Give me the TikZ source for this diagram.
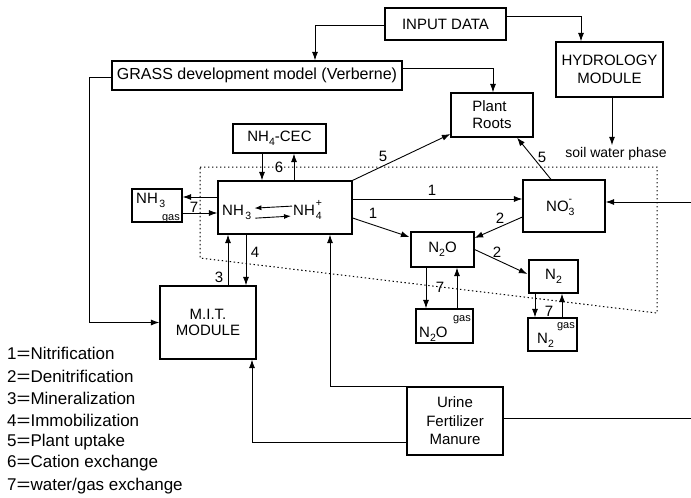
\documentclass[tikz,border=0pt]{standalone}
\usepackage{fontspec}
\usepackage{graphicx}
\setmainfont{Liberation Sans}
\usetikzlibrary{arrows.meta,calc}
\newcommand\myfs[1]{\fontsize{#1}{#1}\selectfont}
\newcommand\sbs[1]{\raisebox{-0.3em}{\fontsize{10.5}{11}\selectfont #1}}
\newcommand\sbsp[2]{\makebox[0pt][l]{\raisebox{0.55em}{\fontsize{10.5}{11}\selectfont #2}}\raisebox{-0.3em}{\fontsize{10.5}{11}\selectfont #1}}
\newcommand\eqs{\scalebox{1.4}[1]{=}}
\begin{document}
\begin{tikzpicture}[x=1pt,y=-1pt,
  box/.style={draw, line width=1.2pt, inner sep=0pt, align=center, font={\fontsize{15}{18}\selectfont}},
  arr/.style={-{Latex[length=8.5pt,width=6pt]}, line width=0.9pt},
  ln/.style={line width=0.9pt},
  lbl/.style={inner sep=0pt, font={\myfs{15}}},
  leg/.style={anchor=west, inner sep=0pt, font={\myfs{17}}},
  small/.style={inner sep=0pt, font={\myfs{11}}}]
\useasboundingbox (0,0) rectangle (691,498);

% soil water phase boundary
\draw[line width=1pt, dash pattern=on 1.4pt off 2.6pt] (200,167) -- (657,167) -- (657,313) -- (200,258) -- cycle;

% boxes
\node[box, minimum width=121pt, minimum height=32pt] (input) at (445.5,24) {INPUT DATA};
\node[box, minimum width=290pt, minimum height=29pt, font={\myfs{16}}] (grass) at (257,75.5) {GRASS development model (Verberne)};
\node[box, minimum width=107pt, minimum height=55pt] (hydro) at (609.5,69.5) {HYDROLOGY\\MODULE};
\node[box, minimum width=82pt, minimum height=44pt, align=left, font={\fontsize{15}{17}\selectfont}] (roots) at (492,115) {Plant\\Roots};
\node[box, minimum width=93pt, minimum height=29pt] (cec) at (279.5,138.5) {NH\sbs{4}-CEC};
\node[box, minimum width=134pt, minimum height=53pt] (main) at (285,207.5) {};
\node[box, minimum width=50pt, minimum height=33pt] (nh3gas) at (157,205.5) {};
\node[box, minimum width=82pt, minimum height=52pt] (no3) at (564,206) {};
\node[box, minimum width=63pt, minimum height=35pt] (n2o) at (442.5,249.5) {N\sbs{2}O};
\node[box, minimum width=49pt, minimum height=33pt] (n2) at (553.5,276.5) {N\sbs{2}};
\node[box, minimum width=57pt, minimum height=34pt] (n2ogas) at (444.5,326) {};
\node[box, minimum width=49pt, minimum height=33pt] (n2gas) at (552.5,334.5) {};
\node[box, minimum width=96pt, minimum height=73pt, font={\fontsize{15}{16.5}\selectfont}] (mit) at (208,322.5) {M.I.T.\\MODULE};
\node[box, minimum width=96pt, minimum height=68pt, font={\fontsize{15}{18.5}\selectfont}] (urine) at (455,421) {Urine\\Fertilizer\\Manure};

% texts inside boxes
\node[lbl, anchor=base west] (nh3t) at (222,215) {NH\hspace{1.5pt}\sbs{3}};
\node[lbl, anchor=base west] (nh4t) at (293,215) {NH\hspace{1pt}\sbsp{4}{+}};
\node[lbl, anchor=base west] (gasnh3a) at (136,203) {NH\hspace{1.5pt}\sbs{3}};
\node[small, anchor=base east] (gasnh3b) at (180,220) {gas};
\node[lbl, anchor=base west] (no3t) at (546,211) {NO\sbsp{3}{-}};
\node[lbl, anchor=base west] (n2ogast) at (419,337) {N\sbs{2}O};
\node[small, anchor=base east] (n2ogasg) at (471,321) {gas};
\node[lbl, anchor=base west] (n2gast) at (537,343) {N\sbs{2}};
\node[small, anchor=base east] (n2gasg) at (575,328) {gas};
\node[inner sep=2pt, font={\myfs{14}}] (swp) at (616,154) {soil water phase};

% equilibrium arrows
\draw[-{Latex[length=7pt,width=5pt]}, line width=0.9pt] ($(nh4t.west)+(-1,-4)$) -- ($(nh3t.east)+(3,-4)$);
\draw[-{Latex[length=7pt,width=5pt]}, line width=0.9pt] ($(nh3t.east)+(4,6)$) -- ($(nh4t.west)+(-2,6)$);

% free ends / bend points
\coordinate (rU) at (691,418);
\coordinate (rN) at (691,202);
\coordinate (h1) at ($(hydro.south)+(2.5,0)$);
\coordinate (c6a) at ($(cec.south)+(-17.5,0)$);
\coordinate (c6b) at ($(cec.south)+(14.5,0)$);
\coordinate (m3) at ($(mit.north)+(20,0)$);
\coordinate (m4) at ($(mit.north)+(38,0)$);
\coordinate (o7a) at ($(n2o.south)+(-16.5,0)$);
\coordinate (o7b) at ($(n2o.south)+(14.5,0)$);
\coordinate (d7a) at ($(n2.south)+(-18.5,0)$);
\coordinate (d7b) at ($(n2.south)+(8.5,0)$);

% connectors from top boxes
\draw[arr] ($(input.west)+(0,1)$) -| ($(grass.north)+(58,0)$);
\draw[arr] ($(input.east)+(0,-8)$) -| ($(hydro.north)+(-28.5,0)$);
\draw[arr] ($(grass.east)+(0,-7.5)$) -| ($(roots.north)+(1,0)$);
\draw[arr] ($(grass.west)+(0,1.5)$) -| ($(mit.west)+(-70,0)$) -- (mit.west);
\draw[arr] (h1) -- (h1 |- swp.north);

% exchange 6
\draw[arr] (c6a) -- (c6a |- main.north);
\draw[arr] (c6b |- main.north) -- (c6b);
\node[lbl] (l6) at (279,167) {6};

% exchange 7 with NH3 gas
\draw[arr] ($(main.west)+(0,-10.5)$) -- ($(nh3gas.east)+(0,-8.5)$);
\draw[arr] ($(nh3gas.east)+(0,7.5)$) -- ($(main.west)+(0,5.5)$);
\node[lbl] (l7a) at (194,207) {7};

% 3 and 4
\draw[arr] (m3) -- (m3 |- main.south);
\draw[arr] (m4 |- main.south) -- (m4);
\node[lbl] (l3) at (219,277) {3};
\node[lbl] (l4) at (255,252) {4};

% nitrification
\draw[arr] ($(main.east)+(0,-8.5)$) -- ($(no3.west)+(0,-7)$);
\node[lbl] (l1a) at (432,190) {1};
\draw[arr] ($(main.east)+(0,10.5)$) -- ($(n2o.west)+(-1,-12.5)$);
\node[lbl] (l1b) at (373,213) {1};

% denitrification
\draw[arr] ($(no3.west)+(0,11)$) -- ($(n2o.east)+(0,-11.5)$);
\node[lbl] (l2a) at (500,218) {2};
\draw[arr] ($(n2o.east)+(0,0)$) -- ($(n2.west)+(-1,-2.5)$);
\node[lbl] (l2b) at (497,252) {2};

% N2O gas / N2 gas exchange
\draw[arr] (o7a) -- (o7a |- n2ogas.north);
\draw[arr] (o7b |- n2ogas.north) -- (o7b);
\node[lbl] (l7b) at (440,287) {7};
\draw[arr] (d7a) -- (d7a |- n2gas.north);
\draw[arr] (d7b |- n2gas.north) -- (d7b);
\node[lbl] (l7c) at (549,311) {7};

% plant uptake
\draw[arr] (main.north east) -- ($(roots.west)+(0,19)$);
\node[lbl] (l5a) at (383,156) {5};
\draw[arr] ($(no3.north)+(-13,0)$) -- ($(roots.south)+(25,0)$);
\node[lbl] (l5b) at (542,157) {5};

% inputs from urine etc.
\draw[arr] (urine.north west) -| ($(main.south)+(45,0)$);
\draw[arr] ($(urine.west)+(0,21)$) -| ($(mit.south)+(44,0)$);
\draw[ln] ($(urine.east)+(0,-3)$) -- (rU);
\draw[arr] (rN) -- ($(no3.east)+(0,-4)$);

% legend
\node[leg] (k1) at (7,353) {1\eqs Nitrification};
\node[leg] (k2) at (7,376) {2\eqs Denitrification};
\node[leg] (k3) at (7,398) {3\eqs Mineralization};
\node[leg] (k4) at (7,420) {4\eqs Immobilization};
\node[leg] (k5) at (7,442) {5\eqs Plant uptake};
\node[leg] (k6) at (7,463) {6\eqs Cation exchange};
\node[leg] (k7) at (7,486) {7\eqs water/gas exchange};
\end{tikzpicture}
\end{document}
